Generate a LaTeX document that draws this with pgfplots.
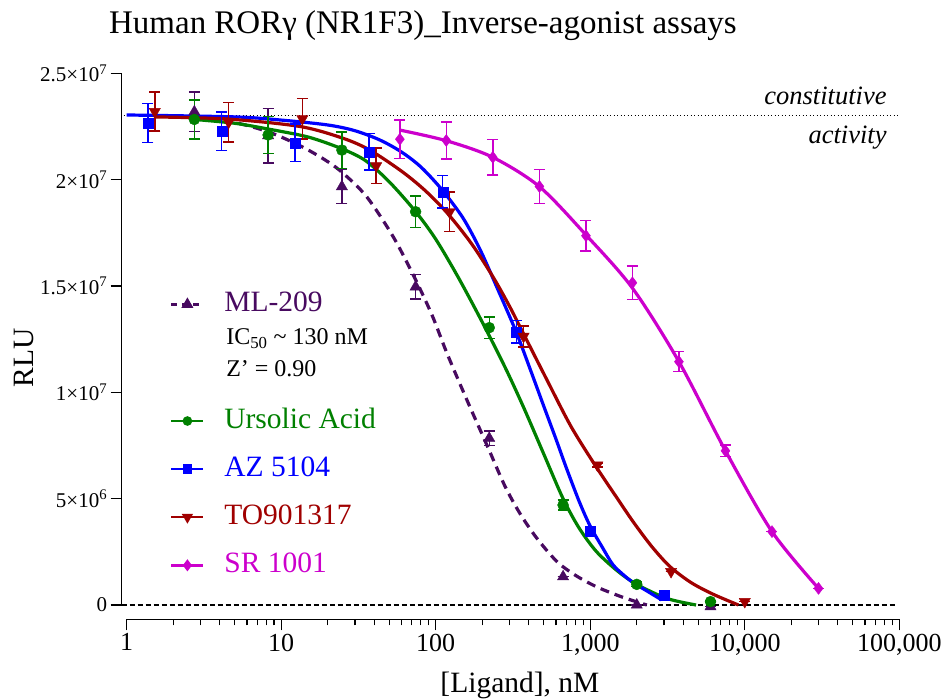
\documentclass[border=0pt]{standalone}
\usepackage{fontspec}
\setmainfont{Liberation Serif}
\usepackage{pgfplots}
\pgfplotsset{compat=1.18}

\definecolor{mlcol}{RGB}{72,10,96}
\definecolor{uacol}{RGB}{0,128,0}
\definecolor{azcol}{RGB}{0,0,255}
\definecolor{tocol}{RGB}{160,0,0}
\definecolor{srcol}{RGB}{204,0,204}

\pgfplotsset{
  pts/.style={only marks, forget plot,
    error bars/y dir=both, error bars/y explicit,
    error bars/error bar style={line width=1.5pt},
    error bars/error mark options={rotate=90, mark size=5.5pt, line width=1.5pt}},
  fit/.style={smooth, no markers, line width=3.2pt, forget plot},
}

\begin{document}
\begin{tikzpicture}
\begin{axis}[
  name=ax,
  scale only axis,
  width=772.6pt, height=531.7pt,
  xmode=log, xmin=1, xmax=100000,
  ymin=0, ymax=25,
  clip=false,
  axis x line*=bottom, axis y line*=left,
  axis x line shift=14.3pt, axis y line shift=5pt,
  axis line style={-, line width=1.3pt},
  tick align=outside,
  major tick length=11pt, minor tick length=6pt,
  every tick/.style={black, line width=1.3pt},
  xtick={1,10,100,1000,10000,100000},
  xticklabels={1,10,100,{1,000},{10,000},{100,000}},
  minor xtick={2,3,4,5,6,7,8,9,20,30,40,50,60,70,80,90,200,300,400,500,600,700,800,900,2000,3000,4000,5000,6000,7000,8000,9000,20000,30000,40000,50000,60000,70000,80000,90000},
  ytick={0,5,10,15,20,25},
  yticklabels={0,5×10\textsuperscript{6},1×10\textsuperscript{7},1.5×10\textsuperscript{7},2×10\textsuperscript{7},2.5×10\textsuperscript{7}},
  xticklabel style={font=\fontsize{26}{26}\selectfont},
  yticklabel style={font=\fontsize{21}{21}\selectfont},
  title={Human RORγ (NR1F3)\_Inverse-agonist assays},
  title style={font=\fontsize{33}{33}\selectfont, at={(axis description cs:0.3835,1)}, anchor=base, yshift=33.3pt},
  xlabel={[Ligand], nM},
  xlabel style={font=\fontsize{29.5}{29.5}\selectfont, at={(axis description cs:0.509,0)}, anchor=base, yshift=-87.5pt},
  ylabel={RLU},
  ylabel style={font=\fontsize{29.5}{29.5}\selectfont, at={(axis description cs:-0.1333,0.4645)}, anchor=center},
  legend style={draw=none, fill=none, at={(axis description cs:0.056,0.5911)}, anchor=north west,
    inner sep=0pt, row sep=21.1pt, column sep=19.7pt, font=\fontsize{29.5}{29.5}\selectfont,
    nodes={inner sep=0pt, text height=21pt, text depth=6pt}},
  legend cell align=left,
  legend image code/.code={\draw[mark repeat=2,mark phase=2,#1] plot coordinates {(0pt,0pt) (16pt,0pt) (32pt,0pt)};},
]

% reference lines
\draw[black, line width=1.2pt, dash pattern=on 5pt off 3pt] ([xshift=-5pt]axis cs:1,0) -- (axis cs:95000,0);
\draw[black, line width=1.1pt, dash pattern=on 1.1pt off 2.4pt] ([xshift=-3pt]axis cs:1,23) -- (axis cs:100000,23);
\node[anchor=base east, font=\itshape\fontsize{26.5}{26.5}\selectfont] at (axis description cs:0.988,0.9404) {constitutive};
\node[anchor=base east, font=\itshape\fontsize{26.5}{26.5}\selectfont] at (axis description cs:0.988,0.8683) {activity};

% fitted curves
\addplot[fit, mlcol, dash pattern=on 9pt off 6pt] coordinates {
  (2.74,22.96) (4.9,22.7) (8.23,22.25) (13.2,21.6) (19,20.95) (24.7,20.35) (35.7,19.2)
  (53.2,17.3) (74,15.3) (95,13.6) (118,11.85) (160,9.6) (218,7.4) (280,5.6) (351,4.3)
  (450,3.15) (607,2.05) (800,1.4) (1102,0.85) (1600,0.38) (2322,0)};
\addplot[fit, uacol] coordinates {
  (2.74,22.83) (5,22.65) (8.23,22.38) (15,22.0) (24.7,21.45) (35,20.9) (50,19.9) (74,18.5)
  (100,17.2) (140,15.4) (200,13.3) (280,11.2) (370,9.3) (500,7.1) (667,5.0) (850,3.6)
  (1100,2.5) (1500,1.6) (2000,0.97) (3126,0.31) (4840,0)};
\addplot[fit, azcol] coordinates {
  (1,23.04) (5,22.95) (10,22.8) (20,22.57) (30,22.3) (43.6,21.86) (60,21.3) (80,20.6)
  (109,19.55) (150,18.2) (194,16.7) (250,14.9) (331,12.85) (420,10.85) (500,9.35)
  (600,7.8) (700,6.45) (850,4.85) (1000,3.7) (1200,2.7) (1400,1.9) (1650,1.4) (1900,1.05)
  (2400,0.6) (2900,0.24)};
\addplot[fit, tocol] coordinates {
  (1.5,22.95) (4.5,22.85) (13.2,22.5) (25,21.95) (37.2,21.4) (60,20.4) (85,19.5)
  (118,18.45) (170,17.0) (236,15.4) (300,14.05) (370,12.75) (523,10.6) (750,8.4)
  (1091,6.5) (1500,5.0) (1901,3.9) (2500,2.75) (3286,1.8) (4500,1.05) (6266,0.5) (9100,0)};
\addplot[fit, srcol] coordinates {
  (58.6,22.33) (117,21.83) (234,21.05) (469,19.67) (938,17.4) (1875,14.9) (3750,11.44)
  (7500,7.25) (15000,3.45) (30000,0.78)};

% data points (mean +- error, RLU in units of 1e6)
\addplot[pts, mlcol, mark=triangle*, mark size=6.5pt] coordinates {
  (2.74,23.19) +- (0,0.92) (8.23,22.07) +- (0,1.28) (24.7,19.67) +- (0,0.80)
  (74.1,14.96) +- (0,0.57) (222,7.84) +- (0,0.35) (667,1.33) +- (0,0)
  (2000,0.0) +- (0,0) (6000,-0.08) +- (0,0)};
\addplot[pts, uacol, mark=*, mark size=5.5pt] coordinates {
  (2.74,22.83) +- (0,0.92) (8.23,22.10) +- (0,0.87) (24.7,21.39) +- (0,0.86)
  (74.1,18.49) +- (0,0.74) (222,13.04) +- (0,0.51) (667,4.70) +- (0,0.23)
  (2000,0.97) +- (0,0.1) (6000,0.16) +- (0,0.05)};
\addplot[pts, azcol, mark=square*, mark size=5pt] coordinates {
  (1.37,22.67) +- (0,0.92) (4.12,22.28) +- (0,0.90) (12.3,21.73) +- (0,0.88)
  (37,21.31) +- (0,0.86) (111,19.43) +- (0,0.76) (333,12.85) +- (0,0.52)
  (1000,3.45) +- (0,0.1) (3000,0.44) +- (0,0.05)};
\addplot[pts, tocol, mark=triangle*, mark size=6.5pt, mark options={rotate=180}] coordinates {
  (1.52,23.2) +- (0,0.92) (4.57,22.7) +- (0,0.92) (13.7,22.86) +- (0,0.96)
  (41.2,20.65) +- (0,0.83) (123,18.48) +- (0,0.93) (370,12.63) +- (0,0.49)
  (1111,6.58) +- (0,0.1) (3333,1.57) +- (0,0) (10000,0.16) +- (0,0)};
\addplot[pts, srcol, mark=diamond*, mark size=6pt] coordinates {
  (58.6,21.9) +- (0,0.9) (117,21.84) +- (0,0.88) (234,21.05) +- (0,0.84)
  (469,19.68) +- (0,0.80) (938,17.36) +- (0,0.71) (1875,15.15) +- (0,0.78)
  (3750,11.44) +- (0,0.47) (7500,7.25) +- (0,0.27) (15000,3.45) +- (0,0)
  (30000,0.78) +- (0,0)};

% legend
\addlegendimage{mlcol, line width=2.5pt, dash pattern=on 6pt off 5pt, mark=triangle*, mark size=4.5pt, mark options={solid}}
\addlegendentry[text=mlcol]{ML-209}
\addlegendimage{empty legend}
\addlegendentry[text height=41.4pt]{}
\addlegendimage{uacol, line width=2.5pt, mark=*, mark size=3.5pt}
\addlegendentry[text=uacol]{Ursolic Acid}
\addlegendimage{azcol, line width=2.5pt, mark=square*, mark size=3.5pt}
\addlegendentry[text=azcol]{AZ 5104}
\addlegendimage{tocol, line width=2.5pt, mark=triangle*, mark size=4pt, mark options={rotate=180}}
\addlegendentry[text=tocol]{TO901317}
\addlegendimage{srcol, line width=2.5pt, mark=diamond*, mark size=4pt}
\addlegendentry[text=srcol]{SR 1001}

\node[anchor=base west, font=\fontsize{24}{24}\selectfont] at (axis description cs:0.1243,0.489) {IC\textsubscript{50} \textasciitilde{} 130 nM};
\node[anchor=base west, font=\fontsize{24}{24}\selectfont] at (axis description cs:0.1243,0.4294) {Z' = 0.90};
\end{axis}
\pgfresetboundingbox
\path[use as bounding box] ([shift={(-126.7pt,-95pt)}]ax.south west) rectangle ([shift={(42.7pt,73.3pt)}]ax.north east);
\end{tikzpicture}
\end{document}
